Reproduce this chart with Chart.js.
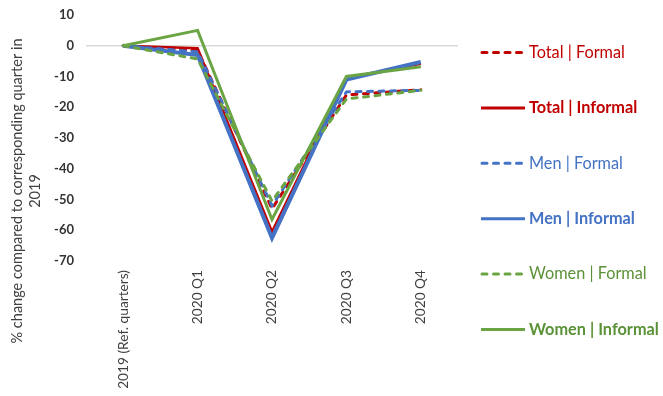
<!DOCTYPE html>
<html><head><meta charset="utf-8">
<script src="https://cdn.jsdelivr.net/npm/chart.js@4/dist/chart.umd.min.js"></script>
<style>html,body{margin:0;padding:0;background:#fff;}#wrap{width:663px;height:396px;position:relative;}</style>
</head><body><div id="wrap"><canvas id="c" width="663" height="396"></canvas></div>
<script>
const categories = ['2019 (Ref. quarters)', '2020 Q1', '2020 Q2', '2020 Q3', '2020 Q4'];
const yTicks = [10, 0, -10, -20, -30, -40, -50, -60, -70];
const seriesNames = ['Total | Formal', 'Total | Informal', 'Men | Formal', 'Men | Informal', 'Women | Formal', 'Women | Informal'];
const totalFormal   = [0, -1.5, -53.0, -16.0, -14.3];
const totalInformal = [0, -0.8, -60.5, -10.5, -5.9];
const menFormal     = [0, -2.0, -52.0, -15.0, -14.5];
const menInformal   = [0, -3.0, -62.5, -11.0, -5.3];
const womenFormal   = [0, -4.3, -50.5, -17.3, -14.5];
const womenInformal = [0, 5.0, -56.5, -10.0, -6.8];
const yTitle = ['% change compared to corresponding quarter in', '2019'];

const RED = '#C00000', BLUE = '#4472C4', GREEN = '#6AA443', GREEN_T = '#5B9137';
const FONT = 'Lato, "Liberation Sans", sans-serif';

const styles = [
  {c: RED, t: RED, dash: [5, 6.5], w: 3, bold: false},
  {c: RED, t: RED, dash: [], w: 2.5, bold: true},
  {c: BLUE, t: BLUE, dash: [5, 6.5], w: 3, bold: false},
  {c: BLUE, t: BLUE, dash: [], w: 4, bold: true},
  {c: GREEN, t: GREEN_T, dash: [5, 6.5], w: 3, bold: false},
  {c: GREEN, t: GREEN_T, dash: [], w: 3, bold: true}
];
const values = [totalFormal, totalInformal, menFormal, menInformal, womenFormal, womenInformal];

const datasets = values.map((v, i) => ({
  label: seriesNames[i],
  data: v,
  borderColor: styles[i].c,
  backgroundColor: styles[i].c,
  borderWidth: styles[i].w,
  borderDash: styles[i].dash,
  borderCapStyle: styles[i].dash.length ? 'round' : 'butt',
  borderJoinStyle: 'miter',
  pointRadius: 0,
  tension: 0,
  fill: false,
  order: 6 - i
}));

const legendPlugin = {
  id: 'customLegend',
  afterDraw(chart) {
    const ctx = chart.ctx;
    ctx.save();
    seriesNames.forEach((name, i) => {
      const s = styles[i];
      const y = 52.5 + i * 55.4;
      ctx.beginPath();
      ctx.strokeStyle = s.c;
      ctx.lineWidth = 3;
      ctx.setLineDash(s.dash);
      ctx.lineCap = s.dash.length ? 'round' : 'butt';
      ctx.moveTo(s.dash.length ? 482 : 481, y);
      ctx.lineTo(525, y);
      ctx.stroke();
      ctx.setLineDash([]);
      ctx.fillStyle = s.t;
      ctx.font = (s.bold ? 'bold ' : '') + '16.3px ' + FONT;
      ctx.textBaseline = 'middle';
      ctx.textAlign = 'left';
      ctx.fillText(name, 529, y);
    });
    // y axis title
    ctx.fillStyle = '#404040';
    ctx.font = '14.5px ' + FONT;
    ctx.textAlign = 'center';
    ctx.textBaseline = 'middle';
    yTitle.forEach((line, j) => {
      ctx.save();
      ctx.translate(17 + j * 18, 191);
      ctx.rotate(-Math.PI / 2);
      ctx.fillText(line, 0, 0);
      ctx.restore();
    });
    ctx.restore();
  }
};

new Chart(document.getElementById('c'), {
  type: 'line',
  data: {labels: categories, datasets},
  options: {
    responsive: false,
    animation: false,
    layout: {padding: {top: 15, right: 205, bottom: 0, left: 0}, autoPadding: false},
    plugins: {legend: {display: false}, tooltip: {enabled: false}},
    scales: {
      x: {
        offset: true,
        grid: {display: false, drawTicks: false},
        border: {display: false},
        ticks: {minRotation: 90, maxRotation: 90, padding: 9, color: '#404040', font: {family: FONT, size: 13.7}},
        afterFit(scale) { scale.height = 135; scale.paddingLeft = 0; scale.paddingRight = 0; }
      },
      y: {
        min: -70, max: 10,
        afterBuildTicks(scale) { scale.ticks = yTicks.map(v => ({value: v})); },
        grid: {drawTicks: false, color: ctx => (ctx.tick && ctx.tick.value === 0 ? '#D9D9D9' : 'rgba(0,0,0,0)'), lineWidth: 1.5},
        border: {display: false},
        ticks: {padding: 12, color: '#333333', font: {family: FONT, size: 13, weight: 'bold'}},
        afterFit(scale) { scale.width = 86; scale.paddingTop = 0; scale.paddingBottom = 0; }
      }
    }
  },
  plugins: [legendPlugin]
});
</script></body></html>
